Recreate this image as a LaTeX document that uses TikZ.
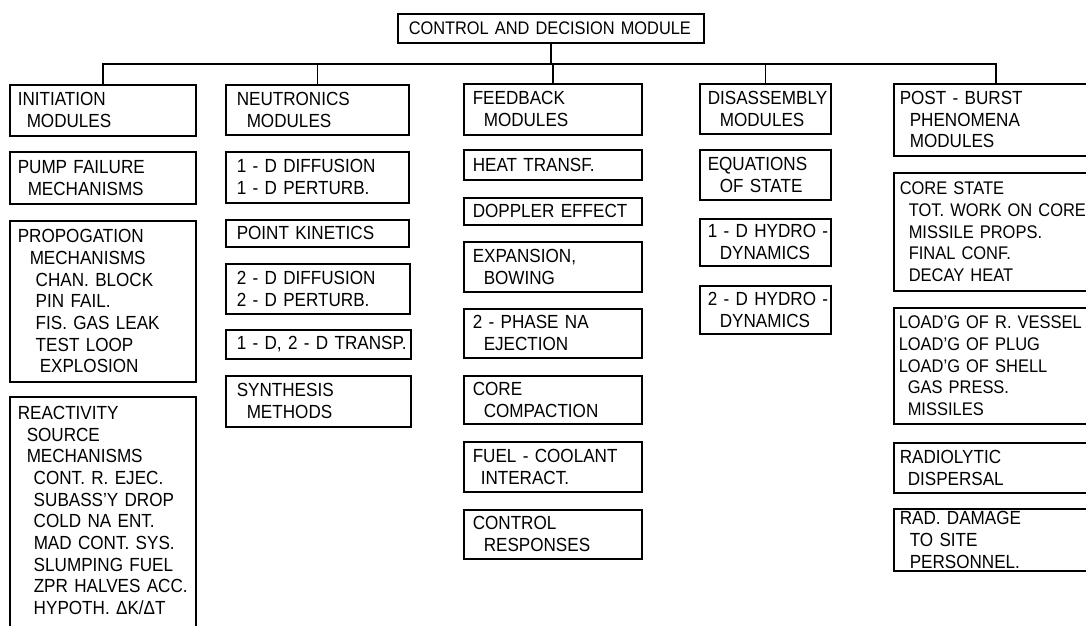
\documentclass[tikz,border=0pt]{standalone}
\usepackage{fontspec}
\setmainfont[FakeStretch=0.9]{Liberation Sans}

% one module box: name, left x, top y, width, height, text inset, text;
% every line of the text starts at the inset
\newcommand\modbox[8][]{%
  \node[box, minimum width=#5pt, minimum height=#6pt, text width=#5pt, #1]
    (#2) at (#3,#4)
    {\let\modnl\\\def\\{\modnl\hspace*{#7pt}}\hspace*{#7pt}#8};}
\newcommand\ind[1]{\hspace*{#1pt}}

\tikzset{
  box/.style={draw, line width=1.5pt, rectangle, anchor=north west,
              align=left, inner xsep=0pt, inner ysep=0pt,
              font={\fontsize{19}{21.7}\selectfont\hyphenpenalty=10000\relax}},
  headbox/.style={font={\fontsize{18.2}{21.7}\selectfont\hyphenpenalty=10000\relax}},
  widebox/.style={font={\fontsize{18.3}{21.7}\selectfont\hyphenpenalty=10000\relax}},
  link/.style={line width=1.5pt}
}

\begin{document}
\begin{tikzpicture}[x=1pt, y=-1pt]
\useasboundingbox (0,0) rectangle (1086,625);
\clip (0,0) rectangle (1086,625);
\fill[white] (0,0) rectangle (1086,625);

% top level
\modbox[headbox]{ctrl}{397}{13}{306}{29}{11}{CONTROL AND DECISION MODULE}

% initiation column
\modbox{init}{9}{84}{186}{51}{8}{INITIATION\\\ind{9}MODULES}
\modbox{pump}{9}{151}{186}{52}{8}{PUMP FAILURE\\\ind{10}MECHANISMS}
\modbox{prop}{9}{220}{186}{161}{8}{PROPOGATION\\\ind{12}MECHANISMS\\\ind{18}CHAN. BLOCK\\\ind{18}PIN FAIL.\\\ind{18}FIS. GAS LEAK\\\ind{18}TEST LOOP\\\ind{22}EXPLOSION}
\modbox{react}{9}{396}{186}{249}{8}{REACTIVITY\\\ind{9}SOURCE\\\ind{9}MECHANISMS\\\ind{16}CONT. R. EJEC.\\\ind{16}SUBASS'Y DROP\\\ind{16}COLD NA ENT.\\\ind{16}MAD CONT. SYS.\\\ind{16}SLUMPING FUEL\\\ind{16}ZPR HALVES ACC.\\\ind{16}HYPOTH. ΔK/ΔT\\\mbox{}}

% neutronics column
\modbox{neut}{225}{84}{183}{50}{11}{NEUTRONICS\\\ind{10}MODULES}
\modbox{diffa}{225}{151}{183}{51}{11}{1 - D DIFFUSION\\1 - D PERTURB.}
\modbox{pk}{225}{219}{183}{27}{11}{POINT KINETICS}
\modbox{diffb}{225}{263}{184}{50}{11}{2 - D DIFFUSION\\2 - D PERTURB.}
\modbox{transp}{225}{329}{185}{29}{11}{1 - D, 2 - D TRANSP.}
\modbox{synth}{225}{375}{185}{51}{11}{SYNTHESIS\\\ind{10}METHODS}

% feedback column
\modbox{feed}{463}{83}{178}{51}{9}{FEEDBACK\\\ind{11}MODULES}
\modbox{heat}{463}{149}{178}{30}{9}{HEAT TRANSF.}
\modbox{dop}{463}{197}{178}{27}{9}{DOPPLER EFFECT}
\modbox{expn}{463}{241}{178}{50}{9}{EXPANSION,\\\ind{11}BOWING}
\modbox{phase}{463}{308}{178}{49}{9}{2 - PHASE NA\\\ind{11}EJECTION}
\modbox{comp}{463}{375}{178}{48}{9}{CORE\\\ind{11}COMPACTION}
\modbox{fci}{463}{441}{178}{50}{9}{FUEL - COOLANT\\\ind{8}INTERACT.}
\modbox{resp}{463}{509}{178}{49}{9}{CONTROL\\\ind{11}RESPONSES}

% disassembly column
\modbox{dis}{699}{83}{131}{50}{8}{DISASSEMBLY\\\ind{12}MODULES}
\modbox{eos}{699}{149}{131}{50}{8}{EQUATIONS\\\ind{12}OF STATE}
\modbox{hyda}{699}{218}{131}{47}{8}{1 - D HYDRO -\\\ind{12}DYNAMICS}
\modbox{hydb}{699}{285}{131}{48}{8}{2 - D HYDRO -\\\ind{12}DYNAMICS}

% post-burst column
\modbox{post}{893}{83}{204}{72}{6}{POST - BURST\\\ind{10}PHENOMENA\\\ind{10}MODULES}
\modbox[widebox]{cstate}{893}{172}{204}{118}{6}{CORE STATE\\\ind{9}TOT. WORK ON CORE\\\ind{9}MISSILE PROPS.\\\ind{9}FINAL CONF.\\\ind{9}DECAY HEAT}
\modbox[widebox]{load}{893}{307}{204}{116}{5}{LOAD'G OF R. VESSEL\\LOAD'G OF PLUG\\LOAD'G OF SHELL\\\ind{9}GAS PRESS.\\\ind{9}MISSILES}
\modbox{radio}{893}{442}{204}{50}{6}{RADIOLYTIC\\\ind{8}DISPERSAL}
\modbox{dmg}{893}{508}{204}{62}{6}{RAD. DAMAGE\\\ind{10}TO SITE\\\ind{10}PERSONNEL.}

% distribution bus
\coordinate (bus) at (0,64);
\draw[link] (ctrl.south) -- (ctrl.south |- bus);
\draw[link] (init.north) -- (init.north |- bus) -- (post.north |- bus) -- (post.north);
\draw[link] (neut.north) -- (neut.north |- bus);
\draw[link] (feed.north) -- (feed.north |- bus);
\draw[link] (dis.north) -- (dis.north |- bus);
\end{tikzpicture}
\end{document}
